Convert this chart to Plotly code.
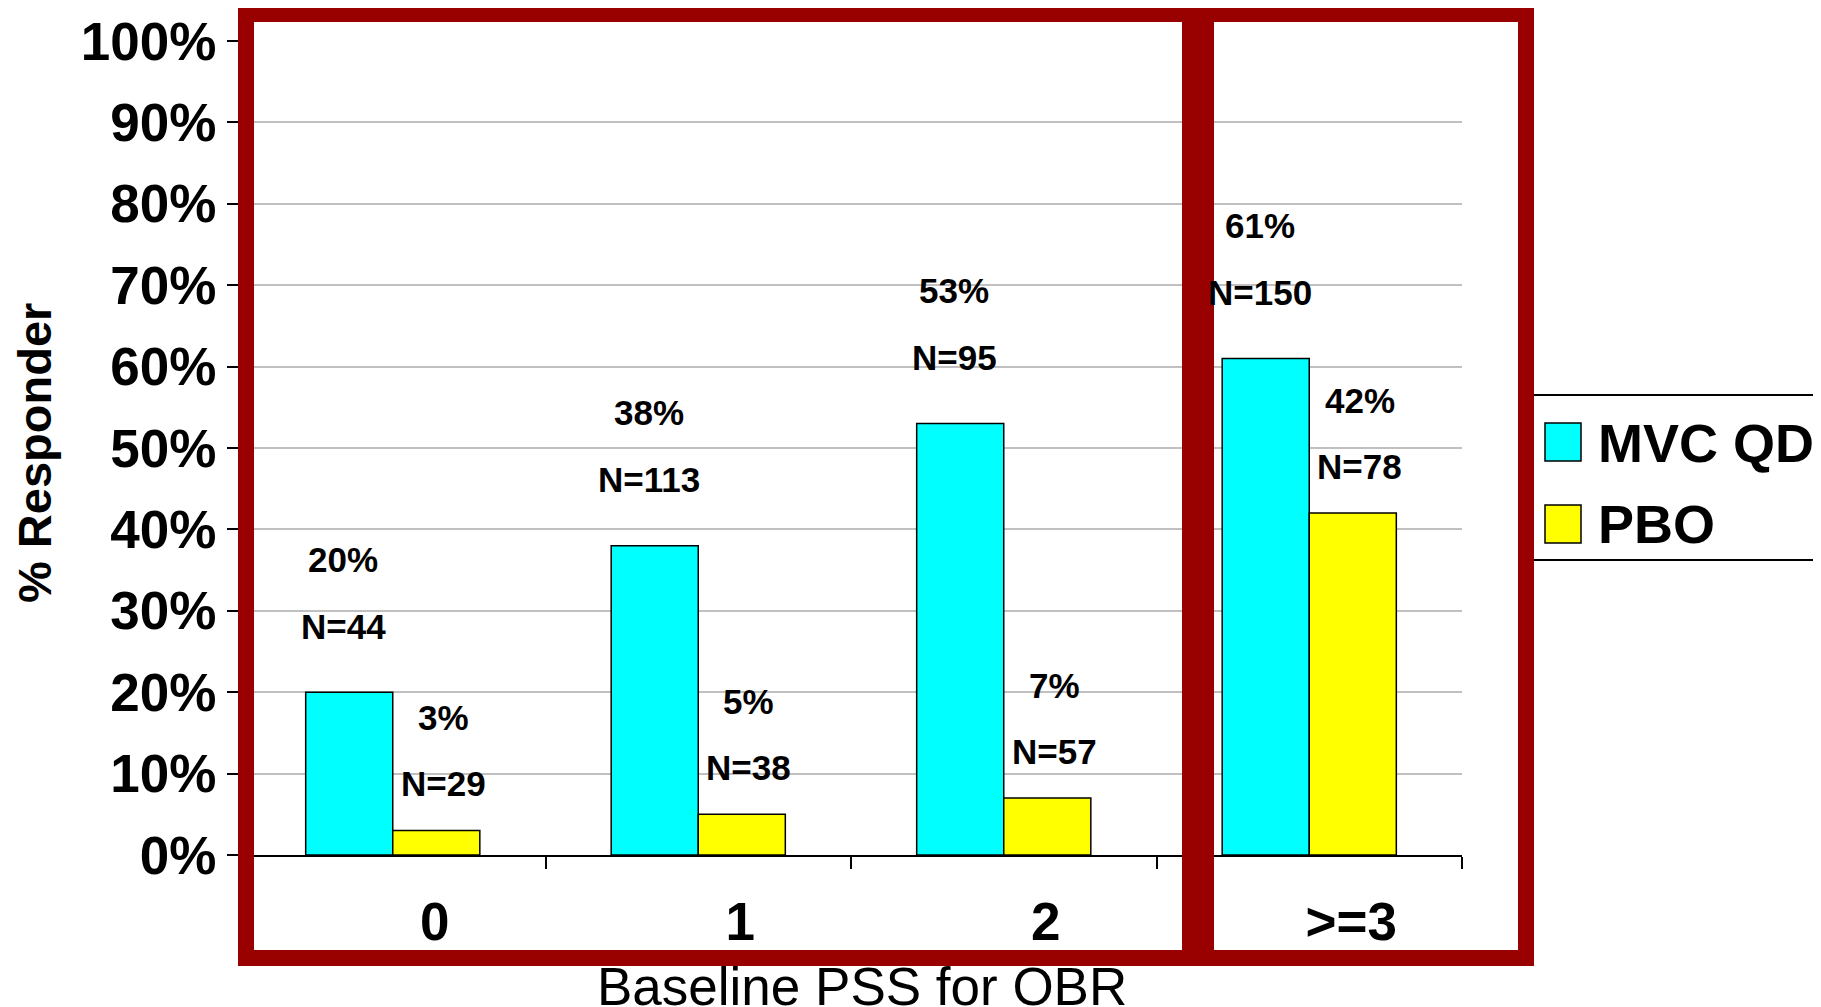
import plotly.graph_objects as go

# ---------------- data ----------------
categories = ["0", "1", "2", ">=3"]
series_names = ["MVC QD", "PBO"]
mvc_pct = [20, 38, 53, 61]
pbo_pct = [3, 5, 7, 42]
mvc_n = [44, 113, 95, 150]
pbo_n = [29, 38, 57, 78]
y_tick_vals = [0, 10, 20, 30, 40, 50, 60, 70, 80, 90, 100]
y_tick_text = ["0%", "10%", "20%", "30%", "40%", "50%", "60%", "70%", "80%", "90%", "100%"]
x_title = "Baseline PSS for OBR"
y_title = "% Responder"

# ---------------- layout geometry ----------------
W, H = 1821, 1007
OFF = 8  # page body margin
L, R, T, B = 240 - OFF, 359 + OFF, 41 - OFF, 152 + OFF
PW = W - L - R
PH = H - T - B
BARGAP = 0.43
FONT = "Liberation Sans, Arial, Helvetica, sans-serif"
RED = "#990000"
COLORS = ["#00FFFF", "#FFFF00"]


def px(xp):
    return (xp - OFF - L) / PW


def py(yp):
    return (H - B - (yp - OFF)) / PH


fig = go.Figure()
for name, vals, col in zip(series_names, [mvc_pct, pbo_pct], COLORS):
    fig.add_trace(go.Bar(
        name=name, x=categories, y=vals,
        marker=dict(color=col, line=dict(color="black", width=1.5)),
        showlegend=False,
    ))

half = (1 - BARGAP) / 4
annotations = []
for i, cat in enumerate(categories):
    for s, (vals, ns) in enumerate([(mvc_pct, mvc_n), (pbo_pct, pbo_n)]):
        xc = i - half if s == 0 else i + half
        shifts = (66, 133) if s == 0 else (47, 113)
        xs = -6 if s == 0 else 7
        annotations.append(dict(x=xc, y=vals[i], xref="x", yref="y", text=f"N={ns[i]}",
                                showarrow=False, yshift=shifts[0], xshift=xs, yanchor="middle",
                                font=dict(family=FONT, size=35, color="black", weight="bold")))
        annotations.append(dict(x=xc, y=vals[i], xref="x", yref="y", text=f"{vals[i]}%",
                                showarrow=False, yshift=shifts[1], xshift=xs, yanchor="middle",
                                font=dict(family=FONT, size=35, color="black", weight="bold")))

# axis titles
annotations.append(dict(x=px(862), y=py(986), xref="paper", yref="paper", text=x_title,
                        showarrow=False, xanchor="center", yanchor="middle",
                        font=dict(family=FONT, size=53, color="black")))
annotations.append(dict(x=px(34), y=py(453), xref="paper", yref="paper", text=y_title,
                        showarrow=False, xanchor="center", yanchor="middle", textangle=-90,
                        font=dict(family=FONT, size=47, color="black", weight="bold")))

# manual legend (large swatches)
legend_rows = [443, 524]
for name, col, yc in zip(series_names, COLORS, legend_rows):
    annotations.append(dict(x=px(1596), y=py(yc), xref="paper", yref="paper", text=name,
                            showarrow=False, xanchor="left", yanchor="middle",
                            font=dict(family=FONT, size=54, color="black", weight="bold")))

shapes = []
# legend box (right side runs off the page)
shapes.append(dict(type="rect", xref="paper", yref="paper", x0=px(1528), x1=px(1900),
                   y0=py(395), y1=py(560), line=dict(color="black", width=2)))
for col, yc in zip(COLORS, [442, 524]):
    shapes.append(dict(type="rect", xref="paper", yref="paper", x0=px(1545), x1=px(1581),
                       y0=py(yc - 19), y1=py(yc + 19), fillcolor=col,
                       line=dict(color="black", width=1.5)))
# red frames
for x0, x1 in [(246, 1190), (1206, 1526)]:
    shapes.append(dict(type="rect", xref="paper", yref="paper", x0=px(x0), x1=px(x1),
                       y0=py(14), y1=py(958), line=dict(color=RED, width=16), layer="above"))

fig.update_layout(
    width=W, height=H,
    margin=dict(l=L, r=R, t=T, b=B, autoexpand=False),
    paper_bgcolor="white", plot_bgcolor="white",
    barmode="group", bargap=BARGAP, bargroupgap=0,
    font=dict(family=FONT, color="black"),
    annotations=annotations, shapes=shapes,
    showlegend=False,
)
fig.update_xaxes(
    type="category", showline=True, linecolor="black", linewidth=2,
    ticks="outside", tickson="boundaries", ticklen=12, tickcolor="black", tickwidth=1.5,
    showgrid=False, ticklabelshift=42, ticklabelstandoff=19,
    tickfont=dict(family=FONT, size=53, color="black", weight="bold"),
    automargin=False,
)
fig.update_yaxes(
    range=[0, 100], tickvals=y_tick_vals, ticktext=y_tick_text,
    showline=False, ticks="outside", ticklen=12, tickcolor="black", tickwidth=2,
    showgrid=True, gridcolor="#c0c0c0", gridwidth=2, zeroline=False,
    ticklabelstandoff=0,
    tickfont=dict(family=FONT, size=53, color="black", weight="bold"),
    automargin=False,
)

fig.write_html("out.html")
